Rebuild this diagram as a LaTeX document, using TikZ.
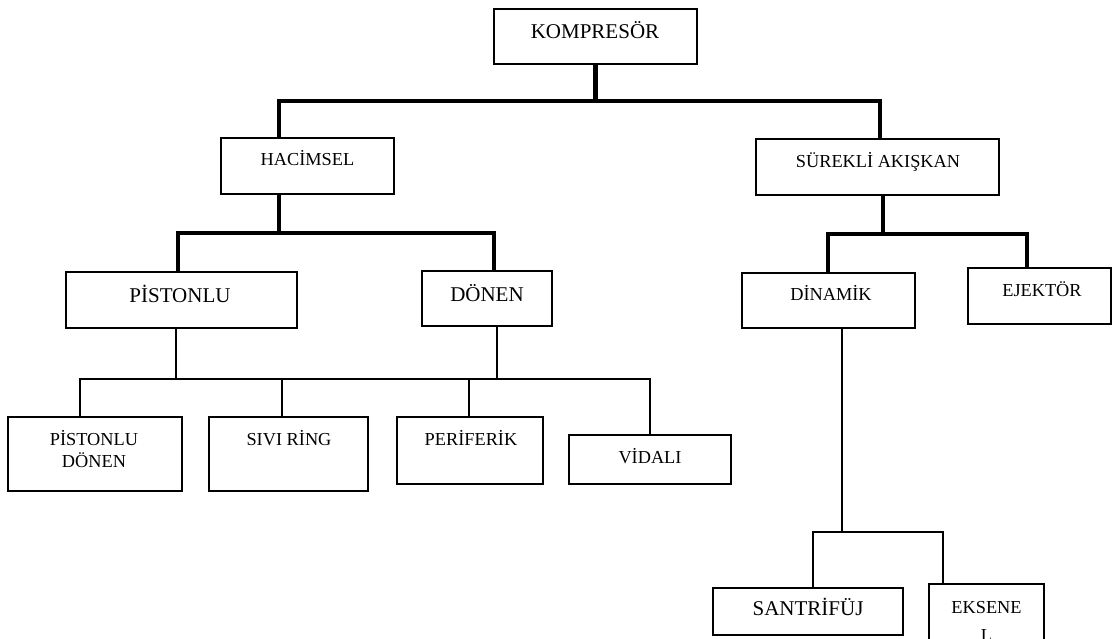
\documentclass[tikz,border=0pt]{standalone}
\usepackage{fontspec}
\setmainfont{Liberation Serif}
\begin{document}
\begin{tikzpicture}[x=1pt,y=-1pt,
  box/.style={draw, line width=1.5pt, inner sep=0pt, outer sep=0pt},
  big/.style={font=\fontsize{21}{24}\selectfont, anchor=base, inner sep=0pt},
  small/.style={font=\fontsize{18.3}{22}\selectfont, anchor=base, inner sep=0pt},
  bus/.style={line width=4.5pt, line join=miter},
  wire/.style={line width=1.6pt, line join=miter}]
\clip (0,0) rectangle (1113,639);
% boxes
\node[box, minimum width=203pt, minimum height=55pt] (k)   at (595.5,36.5) {};
\node[box, minimum width=173pt, minimum height=56pt] (hac) at (307.5,166) {};
\node[box, minimum width=243pt, minimum height=56pt] (sa)  at (877.5,167) {};
\node[box, minimum width=231pt, minimum height=56pt] (pis) at (181.5,300) {};
\node[box, minimum width=130pt, minimum height=55pt] (don) at (487,298.5) {};
\node[box, minimum width=173pt, minimum height=55pt] (din) at (828.5,300.5) {};
\node[box, minimum width=143pt, minimum height=56pt] (ej)  at (1039.5,296) {};
\node[box, minimum width=174pt, minimum height=74pt] (pd)  at (95,454) {};
\node[box, minimum width=159pt, minimum height=74pt] (sr)  at (288.5,454) {};
\node[box, minimum width=146pt, minimum height=67pt] (per) at (470,450.5) {};
\node[box, minimum width=162pt, minimum height=49pt] (vid) at (650,459.5) {};
\node[box, minimum width=190pt, minimum height=47pt] (san) at (808,611.5) {};
\node[box, minimum width=115pt, minimum height=86pt] (eks) at (986.5,627) {};
% texts
\node[big]   (tk)   at (595,39)    {KOMPRESÖR};
\node[small] (thac) at (307.5,166) {HACİMSEL};
\node[small] (tsa)  at (878,168)   {SÜREKLİ AKIŞKAN};
\node[big]   (tpis) at (180,302)   {PİSTONLU};
\node[big]   (tdon) at (487,301)   {DÖNEN};
\node[small] (tdin) at (831,300)   {DİNAMİK};
\node[small] (tej)  at (1042,296)  {EJEKTÖR};
\node[small, align=center] (tpd) at (94,467) {PİSTONLU\\[-0.6pt]DÖNEN};
\node[small] (tsr)  at (289,445)   {SIVI RİNG};
\node[small] (tper) at (471,445)   {PERİFERİK};
\node[small] (tvid) at (650,463)   {VİDALI};
\node[big]   (tsan) at (808,615)   {SANTRİFÜJ};
\node[small, align=center] (teks) at (986.5,641) {EKSENE\\[5.4pt]L};
% thick connectors
\coordinate (b1) at (279,101);
\coordinate (b2) at (880,101);
\draw[bus] (k.south) -- (k.south |- b1);
\draw[bus] (hac.north -| b1) -- (b1) -- (b2) -- (sa.north -| b2);
\coordinate (c1) at (178,233);
\coordinate (c2) at (494,233);
\draw[bus] (hac.south -| b1) -- (b1 |- c1);
\draw[bus] (pis.north -| c1) -- (c1) -- (c2) -- (don.north -| c2);
\coordinate (d0) at (883,234);
\coordinate (d1) at (828,234);
\coordinate (d2) at (1027,234);
\draw[bus] (sa.south -| d0) -- (d0);
\draw[bus] (din.north -| d1) -- (d1) -- (d2) -- (ej.north -| d2);
% thin connectors
\coordinate (ep) at (176,379);
\coordinate (ed) at (497,379);
\coordinate (e1) at (80,379);
\coordinate (e2) at (282,379);
\coordinate (e3) at (469,379);
\coordinate (e4) at (650,379);
\draw[wire] (pis.south -| ep) -- (ep);
\draw[wire] (don.south -| ed) -- (ed);
\draw[wire] (pd.north -| e1) -- (e1) -- (e4) -- (vid.north -| e4);
\draw[wire] (sr.north -| e2) -- (e2);
\draw[wire] (per.north -| e3) -- (e3);
\coordinate (f0) at (842,532);
\coordinate (f1) at (813,532);
\coordinate (f2) at (943,532);
\draw[wire] (din.south -| f0) -- (f0);
\draw[wire] (san.north -| f1) -- (f1) -- (f2) -- (eks.north -| f2);
\end{tikzpicture}
\end{document}
